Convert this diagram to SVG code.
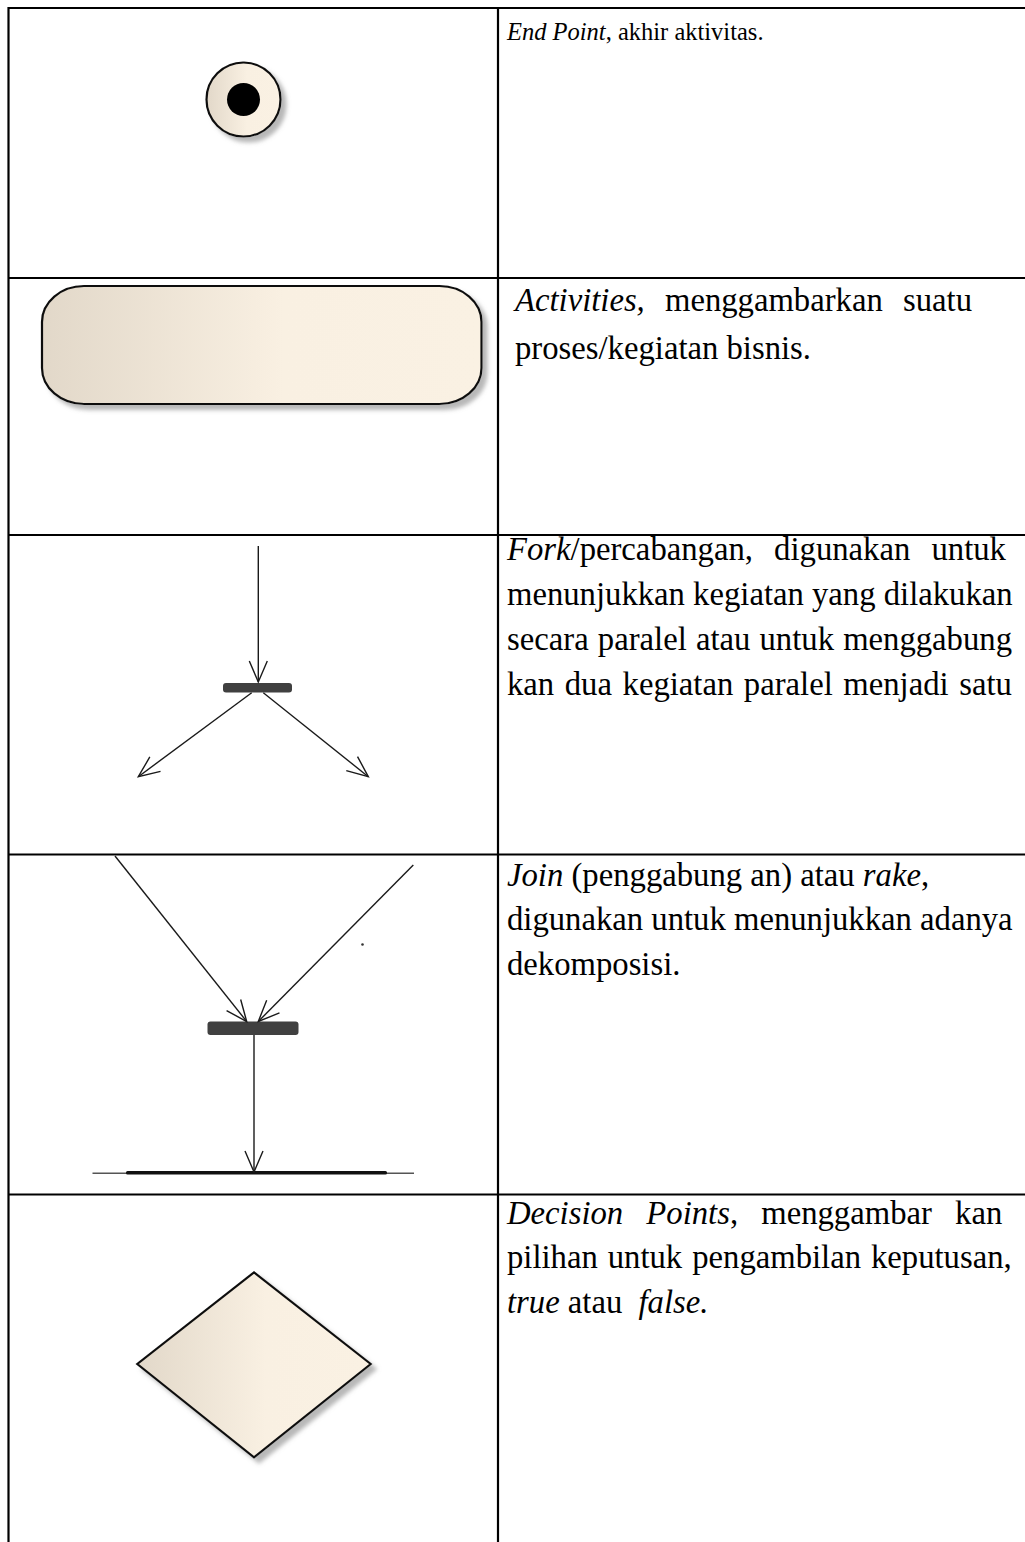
<svg xmlns="http://www.w3.org/2000/svg" width="1025" height="1542" viewBox="0 0 1025 1542">
<style>
.grid{stroke:#000;stroke-width:2.2;fill:none}
.t{font-family:"Liberation Serif","Times New Roman",serif;font-size:32.7px;fill:#000}
.s{font-size:24.5px}
.i{font-style:italic}
.ln{stroke:#1a1a1a;stroke-width:1.4;fill:none}
.bar{fill:#404040}
.shape{stroke:#111;stroke-width:2.2;fill:url(#g)}
</style>
<defs>
<linearGradient id="g" x1="0" y1="0" x2="1" y2="0">
<stop offset="0" stop-color="#e2d8c9"/>
<stop offset="0.55" stop-color="#f9f0e2"/>
<stop offset="1" stop-color="#faf1e3"/>
</linearGradient>
<filter id="sh" x="-20%" y="-20%" width="150%" height="150%">
<feDropShadow dx="5" dy="5" stdDeviation="2" flood-color="#888" flood-opacity="0.6"/>
</filter>
<marker id="v" markerWidth="24" markerHeight="20" refX="22" refY="10" orient="auto" markerUnits="userSpaceOnUse">
<path d="M1,1 L22,10 L1,19" fill="none" stroke="#1a1a1a" stroke-width="1.4"/>
</marker>
</defs>

<g id="table">
<line class="grid" x1="8.5" y1="8" x2="1025" y2="8"/>
<line class="grid" x1="8.5" y1="7" x2="8.5" y2="1542"/>
<line class="grid" x1="498" y1="7" x2="498" y2="1542"/>
<line class="grid" x1="8.5" y1="278" x2="1025" y2="278"/>
<line class="grid" x1="8.5" y1="535" x2="1025" y2="535"/>
<line class="grid" x1="8.5" y1="854.5" x2="1025" y2="854.5"/>
<line class="grid" x1="8.5" y1="1194.5" x2="1025" y2="1194.5"/>
</g>

<g id="end-point">
<circle class="shape" cx="243.5" cy="99.5" r="37" filter="url(#sh)"/>
<circle cx="243.5" cy="99.5" r="16.5" fill="#000"/>
</g>

<g id="activity">
<rect class="shape" x="42" y="286" width="439.5" height="118" rx="42" ry="36" filter="url(#sh)"/>
</g>

<g id="fork">
<rect class="bar" x="223" y="683" width="69" height="9.5" rx="3"/>
</g>

<g id="join">
<rect class="bar" x="207.5" y="1021.5" width="91" height="13.5" rx="3"/>
<circle cx="362.5" cy="944.5" r="1.3" fill="#333"/>
</g>

<g id="join-target">
<line x1="92.5" y1="1173.3" x2="414" y2="1173.3" stroke="#555" stroke-width="1.4"/>
<rect x="126" y="1171" width="261" height="3.5" rx="1.5" fill="#111"/>
</g>

<g id="decision">
<polygon class="shape" points="254,1272.3 370.7,1364 254,1457.3 137.3,1364" filter="url(#sh)" stroke-width="1.8"/>
</g>

<g id="connectors">
<line class="ln" x1="258.3" y1="546" x2="258.3" y2="682" marker-end="url(#v)"/>
<line class="ln" x1="251.7" y1="692.7" x2="138.3" y2="776.7" marker-end="url(#v)"/>
<line class="ln" x1="263.3" y1="692.7" x2="368.3" y2="776.7" marker-end="url(#v)"/>
<line class="ln" x1="115" y1="856" x2="246.7" y2="1021.5" marker-end="url(#v)"/>
<line class="ln" x1="413.3" y1="865" x2="258.3" y2="1021.5" marker-end="url(#v)"/>
<line class="ln" x1="254" y1="1035" x2="254" y2="1172" marker-end="url(#v)"/>
</g>

<g id="texts">
<text class="t s" x="507" y="40"><tspan class="i">End Point</tspan>, akhir aktivitas.</text>
<text class="t" x="515" y="311" word-spacing="12"><tspan class="i">Activities,</tspan> menggambarkan suatu</text>
<text class="t" x="515" y="359">proses/kegiatan bisnis.</text>
<text class="t" x="507" y="560" word-spacing="13"><tspan class="i">Fork</tspan>/percabangan, digunakan untuk</text>
<text class="t" x="507" y="605">menunjukkan kegiatan yang dilakukan</text>
<text class="t" x="507" y="650" word-spacing="1">secara paralel atau untuk menggabung</text>
<text class="t" x="507" y="695" word-spacing="2.4">kan dua kegiatan paralel menjadi satu</text>
<text class="t" x="507" y="886"><tspan class="i">Join</tspan> (penggabung an) atau <tspan class="i">rake</tspan>,</text>
<text class="t" x="507" y="930">digunakan untuk menunjukkan adanya</text>
<text class="t" x="507" y="975">dekomposisi.</text>
<text class="t" x="507" y="1224" word-spacing="15"><tspan class="i">Decision Points</tspan>, menggambar kan</text>
<text class="t" x="507" y="1268" word-spacing="1.8">pilihan untuk pengambilan keputusan,</text>
<text class="t" x="507" y="1313"><tspan class="i">true</tspan> atau <tspan class="i" dx="8">false.</tspan></text>
</g>
</svg>
